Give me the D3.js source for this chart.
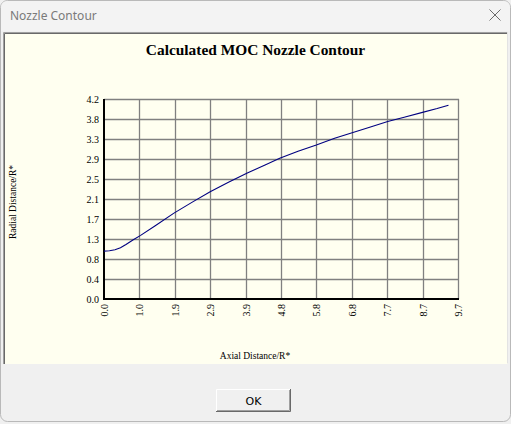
<!DOCTYPE html>
<html><head><meta charset="utf-8">
<script src="https://cdn.jsdelivr.net/npm/d3@7"></script>
<style>
html,body{margin:0;padding:0;background:#f0f0f0;overflow:hidden;}
svg{display:block;}
</style></head>
<body>
<script>
// ---- data ----
const xTickLabels = ["0.0","1.0","1.9","2.9","3.9","4.8","5.8","6.8","7.7","8.7","9.7"];
const yTickLabels = ["0.0","0.4","0.8","1.3","1.7","2.1","2.5","2.9","3.3","3.8","4.2"];
const xMax = 9.67;
const yMax = 4.18;
const axialDist  = [0, 0.15, 0.3, 0.45, 0.6, 0.8, 1.0, 1.4, 1.9, 2.4, 2.9, 3.4, 3.9, 4.4, 4.8, 5.3, 5.8, 6.3, 6.8, 7.3, 7.75, 8.2, 8.7, 9.1, 9.41];
const radialDist = [1.0, 1.01, 1.03, 1.07, 1.14, 1.24, 1.33, 1.53, 1.79, 2.02, 2.24, 2.44, 2.63, 2.80, 2.94, 3.09, 3.22, 3.36, 3.48, 3.60, 3.71, 3.80, 3.90, 3.98, 4.05];
const chartTitle = "Calculated MOC Nozzle Contour";
const xTitle = "Axial Distance/R*";
const yTitle = "Radial Distance/R*";
const windowTitle = "Nozzle Contour";

const W = 511, H = 424;
const svg = d3.select("body").append("svg").attr("width", W).attr("height", H);

// window frame
svg.append("rect").attr("x",0.5).attr("y",0.5).attr("width",W-1).attr("height",H-3)
  .attr("rx",7).attr("fill","#f0f0f0").attr("stroke","#b9b9b9");
svg.append("path").attr("d","M1,31 L1,8 Q1,1 8,1 L503,1 Q510,1 510,8 L510,31 Z").attr("fill","#f3f3f3");
svg.append("text").attr("x",10).attr("y",20).text(windowTitle)
  .attr("font-family","'Noto Sans','Open Sans',sans-serif").attr("font-size",12).attr("fill","#7a7a7a");
// close X
svg.append("path").attr("d","M489.5,9.5 L500.5,20.5 M500.5,9.5 L489.5,20.5").attr("stroke","#6a6a6a").attr("stroke-width",1);

// chart panel
const panel = {x:3, y:32, w:505, h:332};
svg.append("rect").attr("x",panel.x).attr("y",panel.y).attr("width",panel.w).attr("height",panel.h).attr("fill","#fffff0");
svg.append("path").attr("d",`M${panel.x+0.5},${panel.y+panel.h} V${panel.y+0.5} H${panel.x+panel.w}`)
  .attr("fill","none").attr("stroke","#a0a0a0").attr("stroke-width",1);
svg.append("path").attr("d",`M${panel.x+1.5},${panel.y+panel.h} V${panel.y+1.5} H${panel.x+panel.w-1}`)
  .attr("fill","none").attr("stroke","#696969").attr("stroke-width",1);
svg.append("path").attr("d",`M${panel.x+panel.w-0.5},${panel.y} V${panel.y+panel.h-0.5}`)
  .attr("fill","none").attr("stroke","#e3e3e3").attr("stroke-width",1);

const serif = "'Liberation Serif','Times New Roman',serif";

svg.append("text").attr("x",255.5).attr("y",55).attr("text-anchor","middle")
  .attr("font-family",serif).attr("font-weight","bold").attr("font-size",15.4).attr("fill","#000").text(chartTitle);

// plot area
const L = 104, R = 458, T = 99, B = 299;
const x = d3.scaleLinear().domain([0,xMax]).range([L,R]);
const y = d3.scaleLinear().domain([0,yMax]).range([B,T]);
const xTickVals = xTickLabels.map((d,i)=> xMax*i/(xTickLabels.length-1));
const yTickVals = yTickLabels.map((d,i)=> yMax*i/(yTickLabels.length-1));

const g = svg.append("g");
// gridlines
g.selectAll("line.vg").data(xTickVals.slice(1)).enter().append("line")
  .attr("x1",d=>Math.round(x(d))+0.5).attr("x2",d=>Math.round(x(d))+0.5)
  .attr("y1",T).attr("y2",B).attr("stroke","#808080").attr("stroke-width",1.3);
g.selectAll("line.hg").data(yTickVals.slice(1)).enter().append("line")
  .attr("y1",d=>Math.round(y(d))+0.5).attr("y2",d=>Math.round(y(d))+0.5)
  .attr("x1",L).attr("x2",R+1).attr("stroke","#808080").attr("stroke-width",1.3);

// axes
const xAxis = d3.axisBottom(x).tickValues(xTickVals).tickSize(0).tickFormat((d,i)=>xTickLabels[i]);
const yAxis = d3.axisLeft(y).tickValues(yTickVals).tickSize(0).tickFormat((d,i)=>yTickLabels[i]);
const gx = svg.append("g").attr("transform",`translate(0,${B})`).call(xAxis);
gx.select(".domain").remove();
gx.selectAll("text").attr("font-family",serif).attr("font-size",10).attr("fill","#000")
  .attr("transform","rotate(-90)").attr("text-anchor","end").attr("dy","0.35em").attr("x",-5).attr("y",0);
const gy = svg.append("g").attr("transform",`translate(${L},0)`).call(yAxis);
gy.select(".domain").remove();
gy.selectAll("text").attr("font-family",serif).attr("font-size",10).attr("fill","#000").attr("x",-5);

svg.append("line").attr("x1",L).attr("x2",L).attr("y1",T).attr("y2",B+1).attr("stroke","#000").attr("stroke-width",2);
svg.append("line").attr("x1",L-1).attr("x2",R+1).attr("y1",B).attr("y2",B).attr("stroke","#000").attr("stroke-width",2);

// curve
const line = d3.line().x((d,i)=>x(axialDist[i])).y((d,i)=>y(radialDist[i]));
svg.append("path").datum(axialDist).attr("d",line).attr("fill","none").attr("stroke","#000080").attr("stroke-width",1.1);

// axis titles
svg.append("text").attr("x",255).attr("y",359).attr("text-anchor","middle")
  .attr("font-family",serif).attr("font-size",9.5).attr("fill","#000").text(xTitle);
svg.append("text").attr("transform","translate(16,202) rotate(-90)").attr("text-anchor","middle")
  .attr("font-family",serif).attr("font-size",9.5).attr("fill","#000").text(yTitle);

// OK button
const bx=216, by=389, bw=75, bh=23;
svg.append("rect").attr("x",bx).attr("y",by).attr("width",bw).attr("height",bh).attr("fill","#f0f0f0");
svg.append("path").attr("d",`M${bx+0.5},${by+bh} V${by+0.5} H${bx+bw}`).attr("fill","none").attr("stroke","#ffffff");
svg.append("path").attr("d",`M${bx},${by+bh-0.5} H${bx+bw-0.5} V${by}`).attr("fill","none").attr("stroke","#696969");
svg.append("path").attr("d",`M${bx+1},${by+bh-1.5} H${bx+bw-1.5} V${by+1}`).attr("fill","none").attr("stroke","#a0a0a0");
svg.append("text").attr("x",bx+bw/2).attr("y",by+16).attr("text-anchor","middle")
  .attr("font-family","'DejaVu Sans',sans-serif").attr("font-size",11).attr("fill","#000").text("OK");
</script>
</body></html>
